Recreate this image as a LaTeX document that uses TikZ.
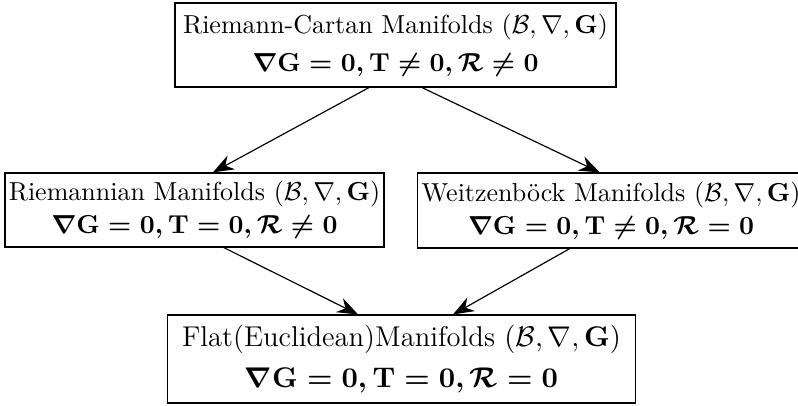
\documentclass[tikz,border=0pt]{standalone}
\usetikzlibrary{arrows.meta}
\begin{document}
\begin{tikzpicture}
            [x=1.3518cm,y=1.3518cm,every node/.style={draw=black,align=center,inner sep=1.5pt},
             >={Stealth[length=8pt,width=6pt]},line width=0.45pt]
            \useasboundingbox (0,0) rectangle (7.98,4.05);
            \node[minimum width=169.6pt,minimum height=32.3pt] (rc) at (3.955,3.60)
                {Riemann-Cartan Manifolds $(\mathcal{B},\nabla,\mathbf{G})$\\[2.6pt]
                 {\boldmath$\nabla\mathbf{G}=\mathbf{0},\mathbf{T}\neq\mathbf{0},\mathcal{R}\neq\mathbf{0}$}};
            \node[minimum width=145.8pt,minimum height=28.5pt] (ri) at (1.945,1.95)
                {Riemannian Manifolds $(\mathcal{B},\nabla,\mathbf{G})$\\[0.7pt]
                 {\boldmath$\nabla\mathbf{G}=\mathbf{0},\mathbf{T}=\mathbf{0},\mathcal{R}\neq\mathbf{0}$}};
            \node[minimum width=149.2pt,minimum height=28.8pt,anchor=west] (we) at (4.165,1.945)
                {Weitzenböck Manifolds $(\mathcal{B},\nabla,\mathbf{G})$\\[0.7pt]
                 {\boldmath$\nabla\mathbf{G}=\mathbf{0},\mathbf{T}\neq\mathbf{0},\mathcal{R}=\mathbf{0}$}};
            \node[minimum width=180pt,minimum height=33.8pt,font=\fontsize{11}{13}\selectfont] (fl) at (4.015,0.46)
                {Flat(Euclidean)Manifolds $(\mathcal{B},\nabla,\mathbf{G})$\\[3pt]
                 {\boldmath$\nabla\mathbf{G}=\mathbf{0},\mathbf{T}=\mathbf{0},\mathcal{R}=\mathbf{0}$}};

            \foreach \from/\dfrom/\to/\dto in {rc.south/-10.2/ri.north/7.1, rc.south/10.2/we.north west/70.5,
                ri.south/11.3/fl.north/-16.7, we.south west/59/fl.north/19.8}
                \draw[->] ([xshift=\dfrom pt]\from) -- ([xshift=\dto pt]\to);
        \end{tikzpicture}
\end{document}
